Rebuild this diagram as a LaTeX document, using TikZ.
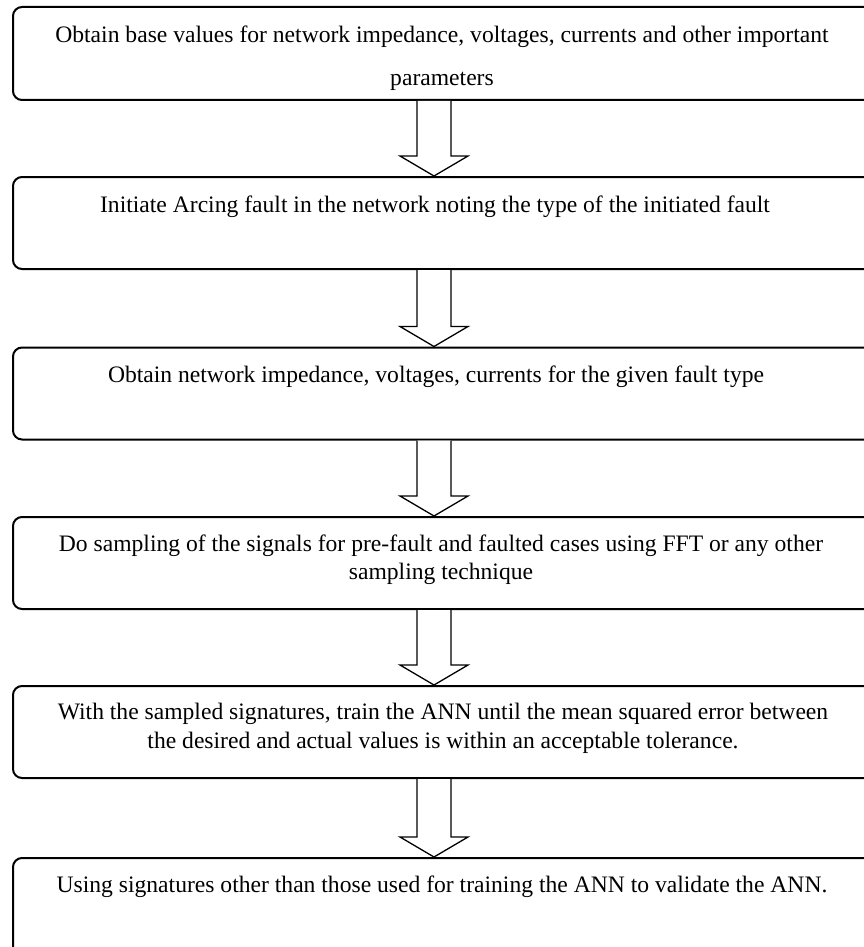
\documentclass[tikz,border=0pt]{standalone}
\usepackage{fontspec}
\setmainfont{Liberation Serif}
\usetikzlibrary{calc}

\tikzset{
  x=1pt, y=-1pt,
  stepbox/.style={draw=black, line width=2pt, rounded corners=9pt,
    minimum width=878pt, minimum height=92pt, inner sep=0pt,
    anchor=north west},
  steptext/.style={anchor=north, inner sep=0pt, align=center,
    font=\fontsize{23.6}{28.6}\selectfont},
  blockarrow/.style={draw=black, line width=1.3pt, fill=white, line join=miter}
}

% hollow down arrow from the bottom of box #1 to the top of box #2
\newcommand\hollowdown[2]{%
  \draw[blockarrow]
    ([xshift=-35pt]#1.south) --
    ([xshift=-35pt,yshift=20pt]#2.north) --
    ([xshift=-52pt,yshift=20pt]#2.north) --
    ([xshift=-18pt]#2.north) --
    ([xshift=16pt,yshift=20pt]#2.north) --
    ([xshift=-1pt,yshift=20pt]#2.north) --
    ([xshift=-1pt]#1.south);
}

\begin{document}
\begin{tikzpicture}
\useasboundingbox (0,0) rectangle (864,947);
\clip (0,0) rectangle (864,947);

% process boxes (they run past the right and bottom edges)
\node[stepbox, minimum height=93pt] (b1) at (12,6) {};
\node[stepbox] (b2) at (12,176) {};
\node[stepbox] (b3) at (12,346.5) {};
\node[stepbox] (b4) at (12,516) {};
\node[stepbox] (b5) at (12,685) {};
\node[stepbox, minimum height=120pt] (b6) at (12,857) {};

% step texts
\node[steptext, font=\fontsize{23.6}{43.5}\selectfont] (t1) at (442,25.4)
  {Obtain base values for network impedance, voltages, currents and other important\\parameters};
\node[steptext] (t2) at (435,196) {Initiate Arcing fault in the network noting the type of the initiated fault};
\node[steptext] (t3) at (436,366) {Obtain network impedance, voltages, currents for the given fault type};
\node[steptext] (t4) at (441,534.4)
  {Do sampling of the signals for pre-fault and faulted cases using FFT or any other\\sampling technique};
\node[steptext] (t5) at (443,702.9)
  {With the sampled signatures, train the ANN until the mean squared error between\\the desired and actual values is within an acceptable tolerance.};
\node[steptext] (t6) at (442,875.9) {Using signatures other than those used for training the ANN to validate the ANN.};

% hollow arrows between consecutive steps
\hollowdown{b1}{b2}
\hollowdown{b2}{b3}
\hollowdown{b3}{b4}
\hollowdown{b4}{b5}
\hollowdown{b5}{b6}
\end{tikzpicture}
\end{document}
